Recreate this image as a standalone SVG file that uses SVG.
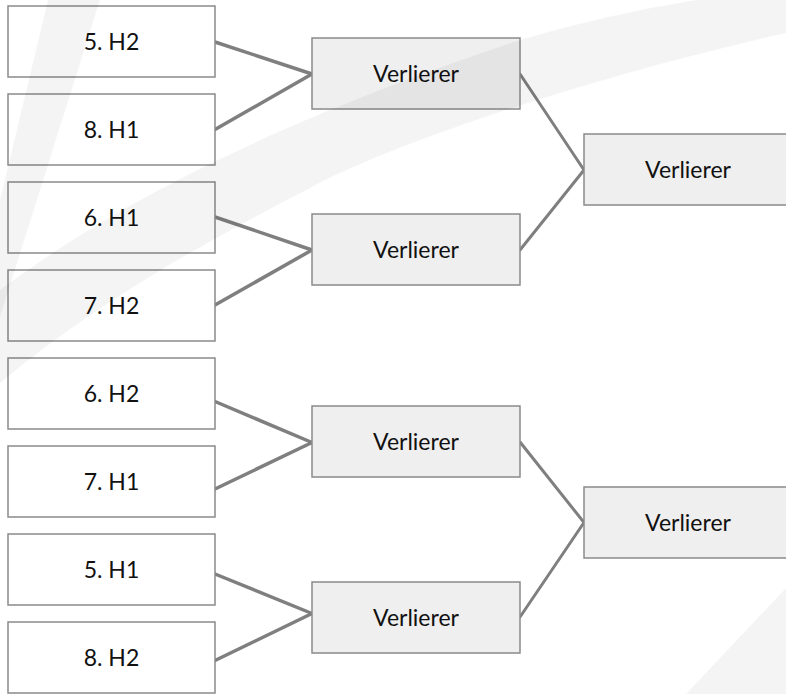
<svg xmlns="http://www.w3.org/2000/svg" width="786" height="694" viewBox="0 0 786 694">
  <style>
    .seed rect { fill: #ffffff; stroke: #8a8a8a; stroke-width: 1.5; }
    .win rect { fill: #efefef; stroke: #8a8a8a; stroke-width: 1.5; }
    text { font-family: Lato, "Open Sans", "Liberation Sans", sans-serif; font-size: 23px; fill: #111111; text-anchor: middle; }
    .c1 { stroke: #7f7f7f; stroke-width: 3.5; fill: none; stroke-linecap: round; }
    .c2 { stroke: #7f7f7f; stroke-width: 3; fill: none; stroke-linecap: round; }
    .wm { fill: #000000; fill-opacity: 0.045; }
  </style>
  <rect x="0" y="0" width="786" height="694" fill="#ffffff"/>
  <g id="connectors">
    <line class="c1" x1="215" y1="42" x2="312" y2="74"/>
    <line class="c1" x1="215" y1="129.5" x2="312" y2="74"/>
    <line class="c1" x1="215" y1="217" x2="312" y2="250"/>
    <line class="c1" x1="215" y1="305" x2="312" y2="250"/>
    <line class="c1" x1="215" y1="401.5" x2="312" y2="442.5"/>
    <line class="c1" x1="215" y1="489" x2="312" y2="442.5"/>
    <line class="c1" x1="215" y1="574" x2="312" y2="613.5"/>
    <line class="c1" x1="215" y1="660.5" x2="312" y2="613.5"/>
    <line class="c2" x1="520" y1="74" x2="584" y2="170"/>
    <line class="c2" x1="520" y1="250" x2="584" y2="170"/>
    <line class="c2" x1="520" y1="442" x2="584" y2="522.5"/>
    <line class="c2" x1="520" y1="617" x2="584" y2="522.5"/>
  </g>
  <g id="s1" class="seed"><rect x="8" y="6" width="207" height="71"/><text x="111.5" y="50">5. H2</text></g>
  <g id="s2" class="seed"><rect x="8" y="94" width="207" height="71"/><text x="111.5" y="138">8. H1</text></g>
  <g id="s3" class="seed"><rect x="8" y="182" width="207" height="71"/><text x="111.5" y="226">6. H1</text></g>
  <g id="s4" class="seed"><rect x="8" y="270" width="207" height="71"/><text x="111.5" y="314">7. H2</text></g>
  <g id="s5" class="seed"><rect x="8" y="358" width="207" height="71"/><text x="111.5" y="402">6. H2</text></g>
  <g id="s6" class="seed"><rect x="8" y="446" width="207" height="71"/><text x="111.5" y="490">7. H1</text></g>
  <g id="s7" class="seed"><rect x="8" y="534" width="207" height="71"/><text x="111.5" y="578">5. H1</text></g>
  <g id="s8" class="seed"><rect x="8" y="622" width="207" height="71"/><text x="111.5" y="666">8. H2</text></g>
  <g id="m1" class="win"><rect x="312" y="38" width="208" height="71"/><text x="416" y="82">Verlierer</text></g>
  <g id="m2" class="win"><rect x="312" y="214" width="208" height="71"/><text x="416" y="258">Verlierer</text></g>
  <g id="m3" class="win"><rect x="312" y="406" width="208" height="71"/><text x="416" y="450">Verlierer</text></g>
  <g id="m4" class="win"><rect x="312" y="582" width="208" height="71"/><text x="416" y="626">Verlierer</text></g>
  <g id="r1" class="win"><rect x="584" y="134" width="208" height="71"/><text x="688" y="178">Verlierer</text></g>
  <g id="r2" class="win"><rect x="584" y="487" width="208" height="71"/><text x="688" y="531">Verlierer</text></g>
  <g id="watermark">
    <path class="wm" d="M0,290 C100,215 250,130 520,40 Q620,10 730,-5 L786,-5 L786,33 C600,75 400,140 312,187 C200,245 100,300 0,383 Z"/>
    <path class="wm" d="M48,0 L100,0 L0,317 L0,200 Z"/>
    <path class="wm" d="M786,588 L786,694 L686,694 Z"/>
  </g>
</svg>
